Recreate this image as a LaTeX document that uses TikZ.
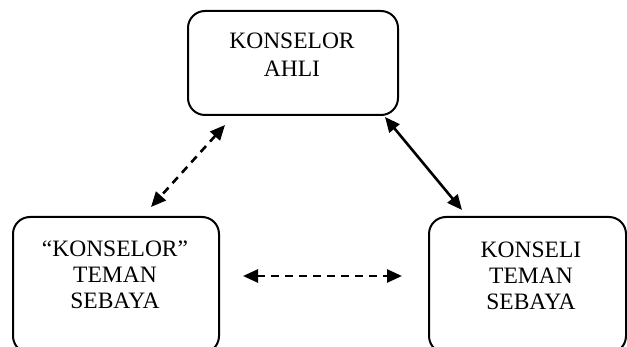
\documentclass[tikz,border=0pt]{standalone}
\usepackage{fontspec}
\setmainfont{Liberation Serif}
\usetikzlibrary{arrows.meta}
\begin{document}
\begin{tikzpicture}[x=1pt,y=-1pt,
  box/.style={draw,line width=2pt,rounded corners=17pt,anchor=north west,inner sep=0pt},
  txt/.style={anchor=base,inner sep=0pt,font=\fontsize{23.5}{27}\selectfont},
  conn/.style={line width=2.6pt,{Triangle[length=15pt,width=13pt]}-{Triangle[length=15pt,width=13pt]}},
  dconn/.style={conn,dash pattern=on 8pt off 6pt}]
\useasboundingbox (0,0) rectangle (627,347);
\clip (0,0) rectangle (627,347);
% boxes
\node[box,minimum width=210pt,minimum height=104pt] (ahli) at (187,10) {};
\node[box,minimum width=206pt,minimum height=136pt] (ksb) at (12,216) {};
\node[box,minimum width=197pt,minimum height=136pt] (kli) at (428,216) {};
% texts
\node[txt] (a1) at (292,49) {KONSELOR};
\node[txt] (a2) at (292,77) {AHLI};
\node[txt] (b1) at (115,257) {“KONSELOR”};
\node[txt] (b2) at (115,283) {TEMAN};
\node[txt] (b3) at (115,309) {SEBAYA};
\node[txt] (c1) at (531,258) {KONSELI};
\node[txt] (c2) at (531,284) {TEMAN};
\node[txt] (c3) at (531,310) {SEBAYA};
% connector ends
\coordinate (ahliL) at (225,125);
\coordinate (ksbT) at (151,207);
\coordinate (ahliR) at (385,117);
\coordinate (kliT) at (462,210);
\coordinate (ksbR) at (243,276);
\coordinate (kliL) at (402,276);
\draw[dconn] (ahliL) -- (ksbT);
\draw[conn] (ahliR) -- (kliT);
\draw[dconn] (ksbR) -- (kliL);
\end{tikzpicture}
\end{document}
